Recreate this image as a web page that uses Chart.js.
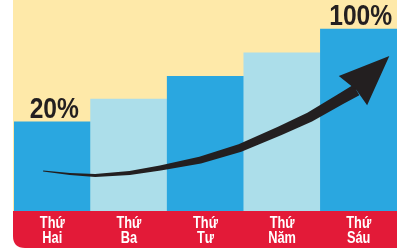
<!DOCTYPE html>
<html>
<head>
<meta charset="utf-8">
<script src="https://cdn.jsdelivr.net/npm/chart.js@4/dist/chart.umd.min.js"></script>
<style>
  body { margin: 0; background: #fff; }
  canvas { display: block; }
</style>
</head>
<body>
<canvas id="dayChart" width="399" height="250"></canvas>
<script>
// categories (two-line labels) and bar heights, relative to the tallest bar
var days = [['Thứ', 'Hai'], ['Thứ', 'Ba'], ['Thứ', 'Tư'], ['Thứ', 'Năm'], ['Thứ', 'Sáu']];
var heights = [49, 61.5, 74, 87, 100];
var valueLabels = ['20%', '', '', '', '100%'];
var barColors = ['#2aa7e0', '#acdeea', '#2aa7e0', '#acdeea', '#2aa7e0'];

// trend arrow, in chart units (x = category index, y = bar scale)
var arrowX = [-0.12, 0.23, 0.56, 1.01, 1.41, 1.93, 2.45, 2.97, 3.36, 3.76, 3.97];
var arrowY = [22.0, 20.3, 19.5, 20.9, 23.6, 28.0, 34.6, 44.0, 51.6, 61.5, 66.5];
var arrowW = [1, 2, 3, 4, 5, 7, 8, 9, 10, 11, 12];
var headX = [4.40, 3.74, 3.97, 4.11];
var headY = [85.2, 74.2, 66.5, 58.2];

// narrow bold text: squeeze a regular bold face horizontally
function narrowText(c, txt, x, y, squeeze) {
    c.save();
    c.translate(x, y);
    c.scale(squeeze, 1);
    c.fillText(txt, 0, 0);
    c.restore();
}

var bandPlugin = {
    id: 'band',
    beforeDraw: function (chart) {
        var c = chart.ctx, a = chart.chartArea;
        c.save();
        c.fillStyle = '#fee9a9';
        c.fillRect(a.left - 1, 0, a.right - a.left + 1, a.bottom);
        // red footer with rounded lower-left corner
        var top = a.bottom, bot = a.bottom + 37, l = a.left - 1, r = a.right, rad = 12;
        c.fillStyle = '#e31a38';
        c.beginPath();
        c.moveTo(l, top);
        c.lineTo(r, top);
        c.lineTo(r, bot);
        c.lineTo(l + rad, bot);
        c.quadraticCurveTo(l, bot, l, bot - rad);
        c.closePath();
        c.fill();
        // day names inside the footer
        c.fillStyle = '#ffffff';
        c.font = 'bold 16px "Liberation Sans", Arial, sans-serif';
        c.textAlign = 'center';
        c.textBaseline = 'alphabetic';
        days.forEach(function (d, i) {
            var x = chart.scales.x.getPixelForValue(i);
            narrowText(c, d[0], x, top + 17, 0.8);
            narrowText(c, d[1], x, top + 32, 0.8);
        });
        c.restore();
    },
    afterDatasetsDraw: function (chart) {
        var c = chart.ctx;
        var xs = chart.scales.x, ys = chart.scales.y;
        c.save();
        // value labels above bars
        c.fillStyle = '#231f20';
        c.font = 'bold 30px "Liberation Sans", Arial, sans-serif';
        c.textAlign = 'center';
        c.textBaseline = 'alphabetic';
        chart.getDatasetMeta(0).data.forEach(function (bar, i) {
            if (valueLabels[i]) narrowText(c, valueLabels[i], bar.x + 2, bar.y - 4, 0.82);
        });
        // arrow shaft
        var pts = arrowX.map(function (v, i) {
            return { x: xs.getPixelForValue(v), y: ys.getPixelForValue(arrowY[i]) };
        });
        var upper = [], lower = [];
        pts.forEach(function (p, i) {
            var p0 = pts[Math.max(i - 1, 0)], p1 = pts[Math.min(i + 1, pts.length - 1)];
            var dx = p1.x - p0.x, dy = p1.y - p0.y, len = Math.sqrt(dx * dx + dy * dy);
            var nx = -dy / len, ny = dx / len, h = arrowW[i] / 2;
            upper.push({ x: p.x + nx * h, y: p.y + ny * h });
            lower.push({ x: p.x - nx * h, y: p.y - ny * h });
        });
        c.fillStyle = '#231f20';
        c.beginPath();
        c.moveTo(upper[0].x, upper[0].y);
        for (var i = 1; i < upper.length; i++) c.lineTo(upper[i].x, upper[i].y);
        for (var j = lower.length - 1; j >= 0; j--) c.lineTo(lower[j].x, lower[j].y);
        c.closePath();
        c.fill();
        // arrow head
        c.beginPath();
        headX.forEach(function (v, i) {
            var px = xs.getPixelForValue(v), py = ys.getPixelForValue(headY[i]);
            if (i === 0) c.moveTo(px, py); else c.lineTo(px, py);
        });
        c.closePath();
        c.fill();
        c.restore();
    }
};

var chart = new Chart(document.getElementById('dayChart').getContext('2d'), {
    type: 'bar',
    data: {
        labels: days,
        datasets: [{
            data: heights,
            backgroundColor: barColors,
            borderWidth: 0,
            barPercentage: 1,
            categoryPercentage: 1
        }]
    },
    options: {
        responsive: false,
        animation: false,
        layout: { padding: { left: 14, right: 2, top: 0, bottom: 2 } },
        plugins: { legend: { display: false }, tooltip: { enabled: false } },
        scales: {
            x: {
                grid: { display: false },
                border: { display: false },
                ticks: { display: false },
                afterFit: function (s) { s.height = 37; }
            },
            y: { display: false, min: 0, max: 116 }
        }
    },
    plugins: [bandPlugin]
});
</script>
</body>
</html>
